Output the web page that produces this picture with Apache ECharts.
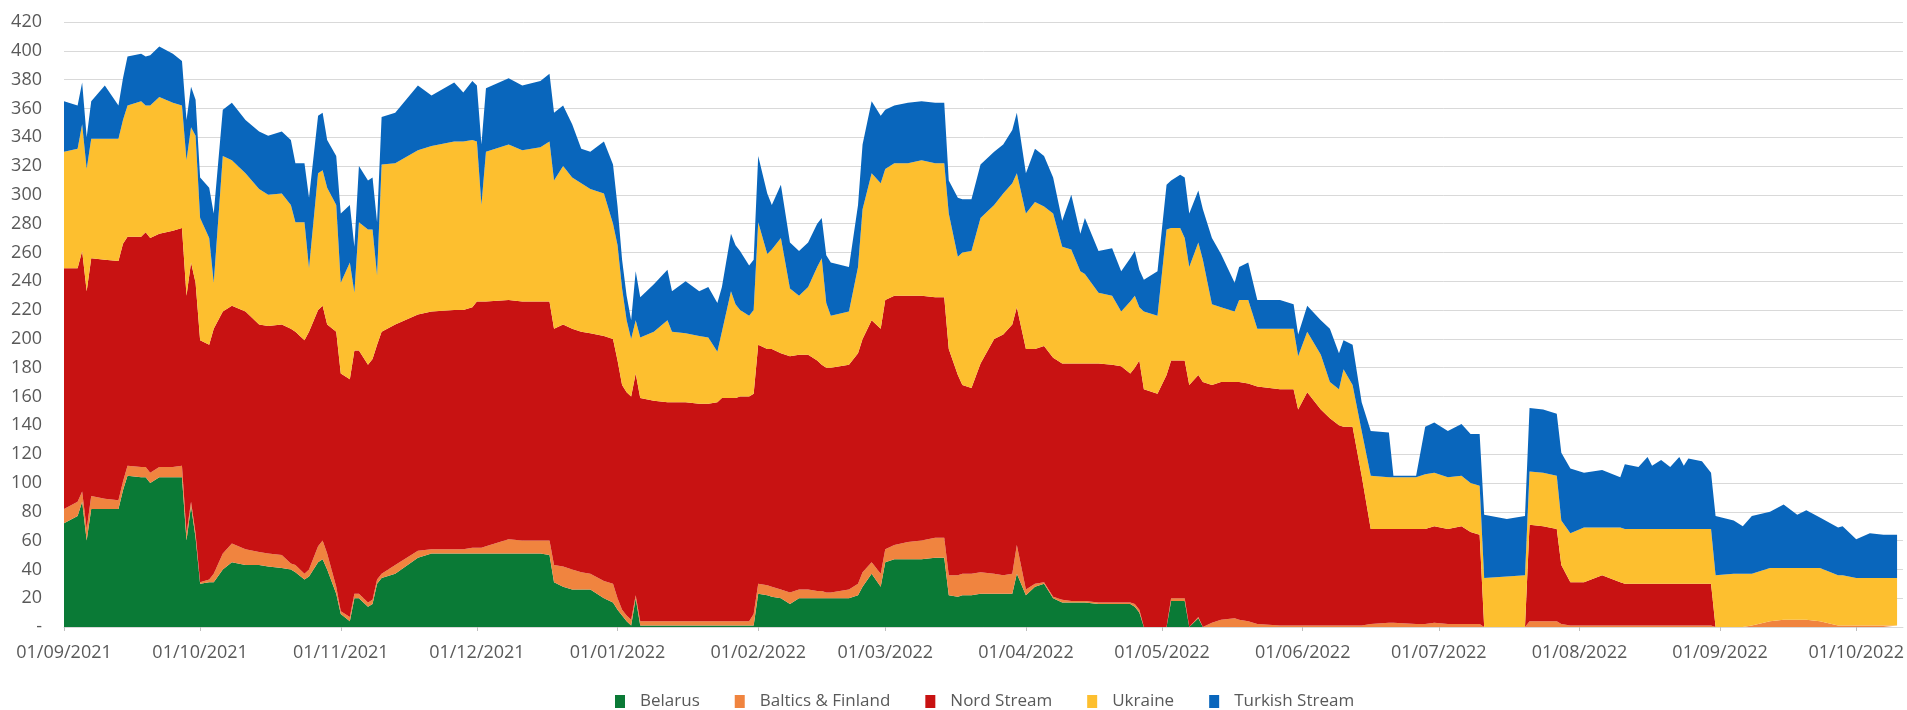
<!DOCTYPE html>
<html><head><meta charset="utf-8">
<script src="https://cdn.jsdelivr.net/npm/echarts@6/dist/echarts.min.js"></script>
<style>html,body{margin:0;padding:0;background:#fff;}#chart{width:1907px;height:710px;}</style>
</head><body><div id="chart"></div>
<script>
const dates = [
'2021-09-01','2021-09-04','2021-09-05','2021-09-06','2021-09-07','2021-09-10','2021-09-13','2021-09-14','2021-09-15','2021-09-18',
'2021-09-19','2021-09-20','2021-09-22','2021-09-25','2021-09-27','2021-09-28','2021-09-29','2021-09-30','2021-10-01','2021-10-03',
'2021-10-04','2021-10-06','2021-10-08','2021-10-11','2021-10-14','2021-10-16','2021-10-19','2021-10-21','2021-10-22','2021-10-24',
'2021-10-25','2021-10-27','2021-10-28','2021-10-29','2021-10-31','2021-11-01','2021-11-03','2021-11-04','2021-11-05','2021-11-07',
'2021-11-08','2021-11-09','2021-11-10','2021-11-13','2021-11-18','2021-11-21','2021-11-26','2021-11-28','2021-11-30','2021-12-01',
'2021-12-02','2021-12-03','2021-12-08','2021-12-11','2021-12-15','2021-12-17','2021-12-18','2021-12-20','2021-12-22','2021-12-24',
'2021-12-26','2021-12-29','2021-12-31','2022-01-01','2022-01-02','2022-01-03','2022-01-04','2022-01-05','2022-01-06','2022-01-09',
'2022-01-12','2022-01-13','2022-01-16','2022-01-19','2022-01-21','2022-01-23','2022-01-24','2022-01-26','2022-01-27','2022-01-28',
'2022-01-30','2022-01-31','2022-02-01','2022-02-03','2022-02-04','2022-02-06','2022-02-08','2022-02-10','2022-02-12','2022-02-14',
'2022-02-15','2022-02-16','2022-02-17','2022-02-21','2022-02-23','2022-02-24','2022-02-26','2022-02-28','2022-03-01','2022-03-03',
'2022-03-06','2022-03-09','2022-03-12','2022-03-14','2022-03-15','2022-03-17','2022-03-18','2022-03-20','2022-03-22','2022-03-25',
'2022-03-27','2022-03-29','2022-03-30','2022-04-01','2022-04-03','2022-04-05','2022-04-07','2022-04-09','2022-04-11','2022-04-13',
'2022-04-14','2022-04-17','2022-04-20','2022-04-22','2022-04-24','2022-04-25','2022-04-26','2022-04-27','2022-04-30','2022-05-02',
'2022-05-03','2022-05-05','2022-05-06','2022-05-07','2022-05-09','2022-05-10','2022-05-12','2022-05-14','2022-05-17','2022-05-18',
'2022-05-20','2022-05-22','2022-05-27','2022-05-30','2022-05-31','2022-06-02','2022-06-05','2022-06-07','2022-06-09','2022-06-10',
'2022-06-12','2022-06-14','2022-06-16','2022-06-20','2022-06-21','2022-06-26','2022-06-28','2022-06-30','2022-07-03','2022-07-06',
'2022-07-08','2022-07-10','2022-07-11','2022-07-16','2022-07-20','2022-07-21','2022-07-24','2022-07-27','2022-07-28','2022-07-30',
'2022-08-02','2022-08-06','2022-08-10','2022-08-11','2022-08-14','2022-08-16','2022-08-17','2022-08-19','2022-08-21','2022-08-23',
'2022-08-24','2022-08-25','2022-08-28','2022-08-30','2022-08-31','2022-09-04','2022-09-06','2022-09-08','2022-09-12','2022-09-15',
'2022-09-18','2022-09-20','2022-09-23','2022-09-27','2022-09-28','2022-10-01','2022-10-04','2022-10-07','2022-10-10'
];
const belarus = [
72,77,87,60,82,82,82,95,105,104,
104,100,104,104,104,60,84,62,30,31,
31,40,45,43,43,42,41,40,38,33,
35,45,47,40,23,9,4,20,20,14,
16,30,34,37,48,51,51,51,51,51,
51,51,51,51,51,50,31,28,26,26,
26,20,17,12,8,4,1,20,1,1,
1,1,1,1,1,1,1,1,1,1,
1,1,23,22,21,20,16,20,20,20,
20,20,20,20,22,28,37,28,45,47,
47,47,48,48,22,21,22,22,23,23,
23,23,37,22,28,30,20,17,17,17,
17,16,16,16,16,14,10,0,0,0,
18,18,18,0,6,0,0,0,0,0,
0,0,0,0,0,0,0,0,0,0,
0,0,0,0,0,0,0,0,0,0,
0,0,0,0,0,0,0,0,0,0,
0,0,0,0,0,0,0,0,0,0,
0,0,0,0,0,0,0,0,0,0,
0,0,0,0,0,0,0,0,0
];
const balticsFinland = [
10,10,7,8,9,7,6,6,7,7,
7,7,7,7,8,5,3,3,1,2,
6,11,13,11,9,9,9,4,5,4,
5,11,13,11,5,2,3,3,3,3,
3,3,3,6,5,3,3,3,4,4,
4,5,10,9,9,10,12,14,14,12,
11,12,13,8,4,4,4,2,3,3,
3,3,3,3,3,3,3,3,3,3,
3,8,7,7,7,6,8,6,6,5,
5,4,4,6,8,10,8,9,9,10,
12,13,14,14,14,15,15,15,15,14,
13,14,20,4,2,1,1,2,1,1,
1,1,1,1,1,2,2,0,0,0,
2,2,2,0,1,0,3,5,6,5,
4,2,1,1,1,1,1,1,1,1,
1,1,2,3,3,2,2,3,2,2,
2,2,0,0,0,4,4,4,2,1,
1,1,1,1,1,1,1,1,1,1,
1,1,1,1,0,0,0,1,4,5,
5,5,4,1,1,1,1,1,1
];
const nordStream = [
167,162,167,165,165,166,166,165,159,160,
163,163,162,164,165,165,166,174,168,163,
170,168,165,165,158,158,160,163,162,162,
165,164,163,159,177,165,165,169,169,165,
167,163,168,167,164,165,166,166,167,171,
171,170,166,166,166,166,164,168,167,167,
167,170,170,165,156,155,155,154,155,153,
152,152,152,151,151,152,155,155,155,156,
156,153,166,164,165,164,164,163,163,160,
157,156,156,156,160,162,168,170,173,173,
171,170,167,167,157,139,131,129,145,163,
167,173,165,167,163,164,166,164,165,165,
165,166,165,164,159,164,173,165,162,175,
165,165,165,168,168,170,165,165,164,165,
165,165,164,164,150,162,150,144,139,138,
138,104,66,65,65,66,66,67,66,68,
64,62,0,0,0,67,66,64,41,30,
30,35,30,29,29,29,29,29,29,29,
29,29,29,29,0,0,0,0,0,0,
0,0,0,0,0,0,0,0,0
];
const ukraine = [
81,83,88,85,83,84,85,86,91,94,
88,92,95,89,85,94,94,102,85,74,
32,108,101,96,94,91,91,86,76,82,
44,95,94,95,88,63,81,40,89,94,
90,48,116,112,114,115,117,117,116,111,
67,104,108,105,107,111,103,110,105,103,
100,99,80,80,67,50,40,37,42,48,
57,49,48,47,46,35,46,74,65,60,
56,58,85,66,69,80,47,41,47,65,
74,45,36,37,60,90,102,101,91,92,
92,94,93,93,94,82,92,95,101,93,
98,98,93,94,102,97,100,81,79,64,
62,49,48,38,50,50,37,54,54,101,
92,92,85,82,92,85,56,52,49,57,
58,40,42,42,37,42,38,25,25,40,
29,31,37,36,36,36,38,37,36,35,
34,34,34,35,36,37,37,37,31,34,
38,33,38,38,38,38,38,38,38,38,
38,38,38,38,36,37,37,36,37,36,
36,36,37,35,35,33,33,33,33
];
const turkishStream = [
35,30,29,22,26,37,23,29,34,33,
34,35,35,34,31,28,28,25,28,35,
48,32,40,37,40,41,43,45,41,41,
49,40,40,33,34,48,40,32,39,34,
36,37,33,35,45,35,41,34,41,39,
42,44,46,45,46,47,47,42,37,24,
26,36,41,27,20,17,13,34,28,33,
35,28,36,31,35,34,31,40,41,41,
35,35,46,42,31,37,32,31,31,30,
28,33,37,31,43,45,50,47,41,40,
42,41,42,42,23,41,37,36,37,37,
34,37,42,28,37,35,25,18,38,26,
39,29,33,28,30,31,26,22,31,31,
33,37,42,37,36,35,46,37,20,23,
26,20,20,17,15,18,24,37,25,20,
28,20,31,31,1,1,33,35,32,36,
34,36,44,40,41,44,44,43,47,45,
38,40,35,45,43,50,44,48,43,50,
44,49,47,39,41,37,33,40,39,44,
37,40,35,33,34,27,31,30,30
];
const monthTicks = ['2021-09-01','2021-10-01','2021-11-01','2021-12-01','2022-01-01','2022-02-01','2022-03-01','2022-04-01','2022-05-01','2022-06-01','2022-07-01','2022-08-01','2022-09-01','2022-10-01'];
const seriesNames = ['Belarus','Baltics & Finland','Nord Stream','Ukraine','Turkish Stream'];
const seriesColors = ['#0A7A36','#F0843F','#C81212','#FDBF2F','#0966BC'];
const seriesValues = [belarus, balticsFinland, nordStream, ukraine, turkishStream];

const DAY = 86400000;
function ts(s){const p=s.split('-');return Date.UTC(+p[0],+p[1]-1,+p[2]);}
function pad(n){return (n<10?'0':'')+n;}
const origin = ts('2021-09-01');
const spanDays = 405.3;
function dayOf(s){return Math.round((ts(s)-origin)/DAY);}
const tickDays = monthTicks.map(dayOf);
const FONT = 'Open Sans';

const chart = echarts.init(document.getElementById('chart'), null, {renderer:'canvas', useUTC:true});
chart.setOption({
  animation:false,
  useUTC:true,
  backgroundColor:'#ffffff',
  grid:{left:64,right:2,top:22,bottom:83,containLabel:false},
  legend:{
    data:seriesNames, icon:'rect', itemWidth:10, itemHeight:13, itemGap:35,
    left:615, top:693, padding:0,
    textStyle:{fontFamily:FONT,fontSize:17,color:'#595959',padding:[0,0,0,10]}
  },
  xAxis:[{
    type:'time', position:'bottom', min:origin, max:origin+spanDays*DAY,
    axisLine:{show:false}, axisTick:{show:false}, axisLabel:{show:false}, splitLine:{show:false}
  },{
    type:'value', position:'bottom', offset:0, min:0, max:spanDays,
    axisLine:{show:true,lineStyle:{color:'#d9d9d9',width:1}},
    axisTick:{show:true,customValues:tickDays,length:4,lineStyle:{color:'#bfbfbf'}},
    axisLabel:{customValues:tickDays,fontFamily:FONT,fontSize:18,color:'#595959',margin:17,hideOverlap:false,
      formatter:function(v){const d=new Date(origin+Math.round(v)*DAY);return pad(d.getUTCDate())+'/'+pad(d.getUTCMonth()+1)+'/'+d.getUTCFullYear();}},
    splitLine:{show:false}
  }],
  yAxis:{
    type:'value', min:0, max:420, interval:20,
    axisLine:{show:false}, axisTick:{show:false},
    splitLine:{show:true,lineStyle:{color:'#d9d9d9',width:1}},
    axisLabel:{fontFamily:FONT,fontSize:18,color:'#595959',margin:22,
      formatter:function(v){return v===0?'-':String(v);}}
  },
  series: seriesNames.map(function(name,k){
    return {
      name:name, type:'line', xAxisIndex:0, stack:'flows', symbol:'none', showSymbol:false,
      data: dates.map(function(d,i){return [ts(d), seriesValues[k][i]];}),
      lineStyle:{width:0}, itemStyle:{color:seriesColors[k]},
      areaStyle:{color:seriesColors[k],opacity:1},
      emphasis:{disabled:true}
    };
  })
});
</script>
</body></html>
